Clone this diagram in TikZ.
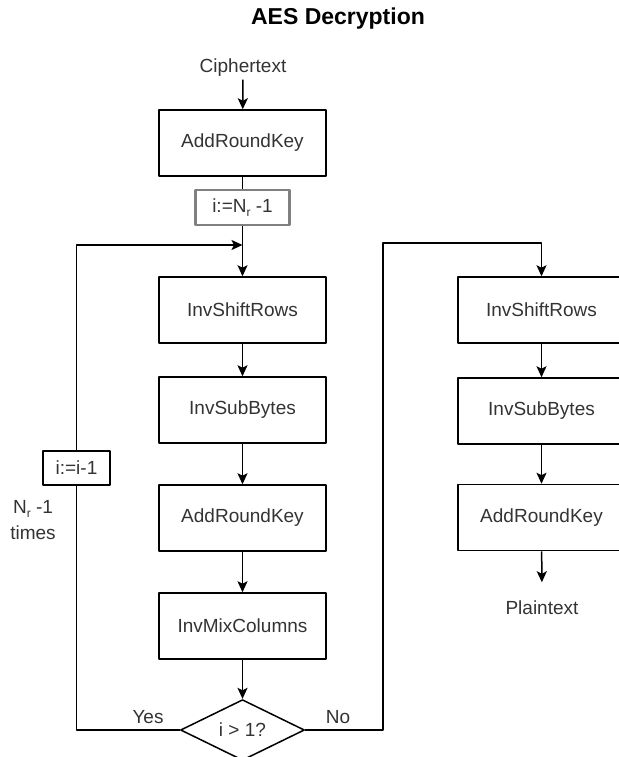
\documentclass[tikz,border=0pt]{standalone}
\usepackage{fontspec}
\setmainfont{Liberation Sans}
\usetikzlibrary{shapes.geometric,arrows.meta}
\newcommand{\subr}[1]{\raisebox{-0.4ex}{\fontsize{12}{12}\selectfont #1}}
\tikzset{
  lbl/.style={text=black!80,font=\fontsize{19}{26}\selectfont,inner sep=2pt},
  blk/.style={lbl,draw=black,line width=1.5pt,minimum width=167pt,minimum height=66pt,inner sep=0pt},
  gblk/.style={lbl,draw=black!50,line width=2.4pt,minimum width=94pt,minimum height=35pt,inner sep=0pt},
  sblk/.style={lbl,draw=black,line width=1.5pt,minimum width=67pt,minimum height=34pt,inner sep=0pt},
  dec/.style={lbl,draw=black,line width=1.5pt,diamond,minimum width=124pt,minimum height=59pt,inner sep=0pt},
}
\begin{document}
\begin{tikzpicture}[x=1pt,y=-1pt,>={Stealth[length=11pt,width=10pt,inset=2.5pt]},line width=1.5pt,line join=round]
	\useasboundingbox (0,0) rectangle (618,757);
	\node[font=\fontsize{23}{27}\selectfont\bfseries] (title) at (338,19) {AES Decryption};
	\node[lbl] (cipher) at (243,68) {Ciphertext};
	\node[blk] (ark0) at (242.5,143) {AddRoundKey};
	\node[gblk] (init) at (242.5,207.5) {i:=N\subr{r} -1};
	\coordinate (join) at (242.5,245);
	% rounds 1 .. Nr-1
	\node[blk] (sr1) at (242.5,310) {InvShiftRows};
	\node[blk] (sb1) at (242.5,410) {InvSubBytes};
	\node[blk] (ark1) at (242.5,518) {AddRoundKey};
	\node[blk] (mc1) at (242.5,626) {InvMixColumns};
	\node[dec] (test) at (242.5,730) {i > 1?};
	\node[sblk] (decr) at (76.5,468) {i:=i-1};
	\node[lbl,align=center] (times) at (33,520) {N\subr{r} -1\\times};
	\node[lbl] (yes) at (148,717) {Yes};
	\node[lbl] (no) at (338,717) {No};
	% last round
	\coordinate (rt) at (383,243);
	\node[blk] (sr2) at (541.5,310) {InvShiftRows};
	\node[blk] (sb2) at (541.5,411) {InvSubBytes};
	\node[blk] (ark2) at (541.5,517.5) {AddRoundKey};
	\node[lbl] (plain) at (542,608) {Plaintext};
	\draw[->] (cipher) -- (ark0);
	\draw (ark0) -- (init);
	\draw[->] (init) -- (sr1);
	\draw[->] (sr1) -- (sb1);
	\draw[->] (sb1) -- (ark1);
	\draw[->] (ark1) -- (mc1);
	\draw[->] (mc1) -- (test);
	\draw (test.west) -| (decr.south);
	\draw[->] (decr.north) |- (join);
	\draw[->] (test.east) -| (rt) -| (sr2.north);
	\draw[->] (sr2) -- (sb2);
	\draw[->] (sb2) -- (ark2);
	\draw[->,shorten >=16pt] (ark2) -- (plain);
\end{tikzpicture}
\end{document}
